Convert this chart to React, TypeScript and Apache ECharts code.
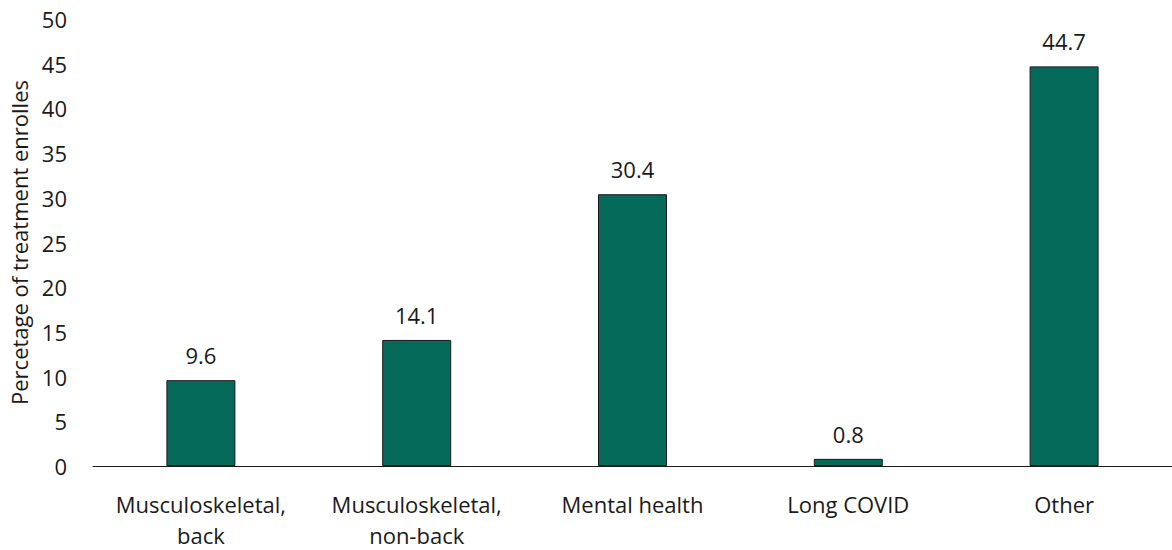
import React, { useEffect, useRef } from "react";
import * as echarts from "echarts";

const categories = [
  "Musculoskeletal,\nback",
  "Musculoskeletal,\nnon-back",
  "Mental health",
  "Long COVID",
  "Other",
];
const values = [9.6, 14.1, 30.4, 0.8, 44.7];
const yAxisName = "Percetage of treatment enrolles";

const FONT = "'Open Sans', 'Noto Sans', sans-serif";

export default function App() {
  const ref = useRef<HTMLDivElement>(null);
  useEffect(() => {
    if (!ref.current) return;
    const chart = echarts.init(ref.current, undefined, { renderer: "svg" });
    chart.setOption({
      animation: false,
      textStyle: { fontFamily: FONT },
      grid: { left: 93, right: -8, top: 19, bottom: 81, containLabel: false },
      xAxis: {
        type: "category",
        data: categories,
        axisLine: { lineStyle: { color: "#1a1a1a", width: 1 } },
        axisTick: { show: false },
        axisLabel: {
          color: "#1a1a1a",
          fontSize: 22,
          fontFamily: FONT,
          margin: 22,
          lineHeight: 31,
          interval: 0,
        },
      },
      yAxis: {
        type: "value",
        min: 0,
        max: 50,
        interval: 5,
        name: yAxisName,
        nameLocation: "middle",
        nameGap: 63,
        nameTextStyle: { color: "#1a1a1a", fontSize: 22, fontFamily: FONT },
        axisLine: { show: false },
        axisTick: { show: false },
        splitLine: { show: false },
        axisLabel: {
          color: "#1a1a1a",
          fontSize: 22,
          fontFamily: FONT,
          margin: 26,
        },
      },
      series: [
        {
          type: "bar",
          data: values,
          barWidth: 69,
          itemStyle: { color: "#066a5b", borderColor: "#1a1a1a", borderWidth: 1 },
          label: {
            show: true,
            position: "top",
            distance: 14,
            color: "#1a1a1a",
            fontSize: 22,
            fontFamily: FONT,
            formatter: (p: any) => Number(p.value).toFixed(1),
          },
        },
      ],
    });
    return () => chart.dispose();
  }, []);
  return (
    <div
      ref={ref}
      style={{ position: "fixed", left: 0, top: 0, width: 1172, height: 550, background: "#fff" }}
    />
  );
}
